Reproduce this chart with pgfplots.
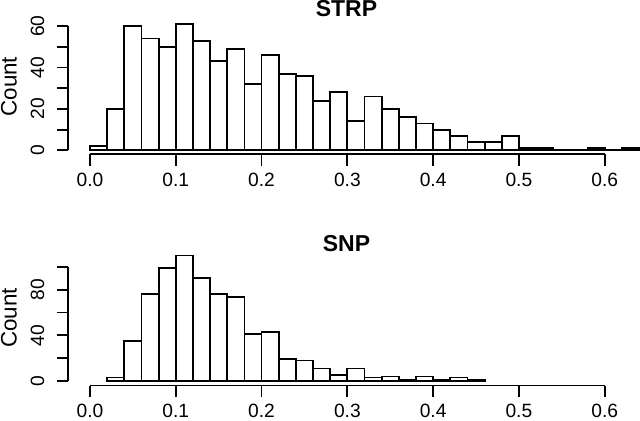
\documentclass[border=0pt]{standalone}
\usepackage{fontspec}
\setmainfont{Liberation Sans}
\usepackage{pgfplots}
\usepackage{pgfplotstable}
\pgfplotsset{compat=1.18}

\pgfplotstableread{
x y
0.00 2
0.02 20
0.04 60
0.06 54
0.08 50
0.10 61
0.12 53
0.14 43
0.16 49
0.18 32
0.20 46
0.22 37
0.24 36
0.26 24
0.28 28
0.30 14
0.32 26
0.34 20
0.36 16
0.38 13
0.40 10
0.42 7
0.44 4
0.46 4
0.48 7
0.50 1
0.52 1
0.54 0
0.56 0
0.58 1
0.60 0
0.62 1
0.64 0
}\strp

\pgfplotstableread{
x y
0.02 3
0.04 35
0.06 76
0.08 99
0.10 110
0.12 90
0.14 76
0.16 74
0.18 41
0.20 43
0.22 19
0.24 18
0.26 11
0.28 5
0.30 11
0.32 3
0.34 4
0.36 1
0.38 4
0.40 1
0.42 3
0.44 1
0.46 0
}\snp

\pgfplotsset{
  rhist/.style={
    scale only axis,
    width=285.5pt, height=67.7pt,
    anchor=south west,
    xmin=-0.02564, xmax=0.64,
    axis line style={draw=none},
    tick align=outside,
    tick pos=left,
    major tick length=5.75pt,
    tick style={black, line width=0.9pt},
    xtick={0,0.1,...,0.6},
    xticklabels={0.0,0.1,0.2,0.3,0.4,0.5,0.6},
    /pgf/number format/assume math mode=true,
    ticklabel style={font=\fontsize{9.6}{11}\selectfont},
    xticklabel style={anchor=center, yshift=-7pt},
    yticklabel style={rotate=90, anchor=center, yshift=9.5pt},
    every axis y label/.style={at={(axis description cs:-0.1033,0.5)}, anchor=center, rotate=90},
    ylabel={\fontsize{11.2}{13}\selectfont Count},
    every axis title/.style={anchor=base, font=\bfseries\fontsize{11.5}{13}\selectfont},
    clip=false,
  },
  rbars/.style={ybar interval, fill=white, draw=black, line width=0.9pt},
}

\begin{document}
\begin{tikzpicture}
\path[use as bounding box] (0,0) rectangle (320pt,-210.5pt);

\begin{axis}[rhist,
  at={(34pt,-77.2pt)},
  ymin=-1.95, ymax=63.45,
  ytick={0,10,...,60},
  yticklabels={0,,20,,40,,60},
  title={STRP},
  title style={at={(axis description cs:0.4877,1.016)}},
]
\addplot[rbars] table[x=x,y=y] {\strp};
\draw[line width=0.9pt] (axis cs:0,-1.95) -- (axis cs:0.6,-1.95);
\draw[line width=0.9pt] (axis cs:-0.02564,0) -- (axis cs:-0.02564,60);
\end{axis}

\begin{axis}[rhist,
  at={(34pt,-192.75pt)},
  ymin=-3.95, ymax=114.8,
  ytick={0,20,...,100},
  yticklabels={0,,40,,80,},
  title={SNP},
  title style={at={(axis description cs:0.4877,0.988)}},
]
\addplot[rbars] table[x=x,y=y] {\snp};
\draw[line width=0.9pt] (axis cs:0,-3.95) -- (axis cs:0.6,-3.95);
\draw[line width=0.9pt] (axis cs:-0.02564,0) -- (axis cs:-0.02564,100);
\end{axis}
\end{tikzpicture}
\end{document}
